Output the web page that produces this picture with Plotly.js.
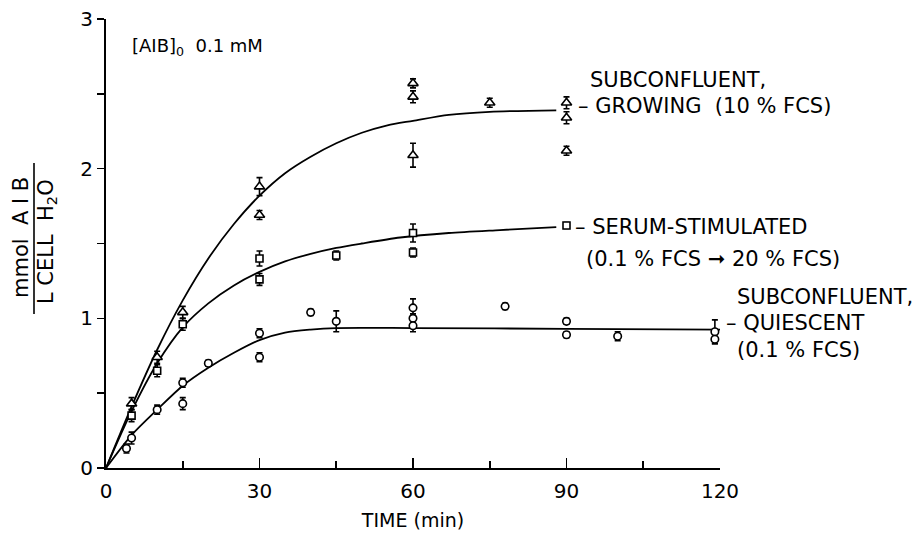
<!DOCTYPE html>
<html>
<head>
<meta charset="utf-8">
<script src="https://cdn.plot.ly/plotly-3.0.1.min.js"></script>
<style>html,body{margin:0;padding:0;background:#fff;}#chart{width:919px;height:541px;}</style>
</head>
<body>
<div id="chart"></div>
<script>
// ---- Data ----
// Subconfluent, growing (10% FCS) – triangles
const growT   = [5, 10, 15, 30, 30, 60, 60, 60, 75, 90, 90, 90];
const growY   = [0.43, 0.74, 1.04, 1.88, 1.69, 2.57, 2.48, 2.09, 2.44, 2.44, 2.34, 2.12];
const growErr = [0.04, 0.04, 0.04, 0.06, 0.03, 0.03, 0.04, 0.08, 0.03, 0.04, 0.04, 0.03];

// Serum-stimulated (0.1% FCS -> 20% FCS) – squares
const serT   = [5, 10, 15, 30, 30, 45, 60, 60, 90];
const serY   = [0.35, 0.65, 0.96, 1.40, 1.26, 1.42, 1.57, 1.44, 1.62];
const serErr = [0.04, 0.04, 0.04, 0.05, 0.04, 0.03, 0.06, 0.03, 0.02];

// Subconfluent, quiescent (0.1% FCS) – circles
const quiT   = [4, 5, 10, 15, 15, 20, 30, 30, 40, 45, 60, 60, 60, 78, 90, 90, 100, 119, 119];
const quiY   = [0.13, 0.20, 0.39, 0.57, 0.43, 0.70, 0.90, 0.74, 1.04, 0.98, 1.07, 1.00, 0.95, 1.08, 0.98, 0.89, 0.88, 0.91, 0.86];
const quiErr = [0.03, 0.04, 0.03, 0.03, 0.04, 0.02, 0.03, 0.03, 0.02, 0.07, 0.06, 0.03, 0.04, 0.02, 0.02, 0.02, 0.03, 0.08, 0.03];

// Fitted curves
const growCurveT = [0, 5, 10, 15, 20, 25, 30, 35, 40, 45, 50, 55, 60, 67, 75, 88];
const growCurveY = [0, 0.41, 0.79, 1.12, 1.40, 1.63, 1.82, 1.97, 2.08, 2.17, 2.24, 2.29, 2.32, 2.36, 2.38, 2.39];
const serCurveT  = [0, 5, 10, 15, 20, 25, 30, 35, 40, 45, 50, 57.5, 67, 77, 88];
const serCurveY  = [0, 0.38, 0.70, 0.94, 1.10, 1.22, 1.31, 1.38, 1.43, 1.47, 1.50, 1.54, 1.57, 1.59, 1.61];
const quiCurveT  = [0, 5, 10, 15, 20, 25, 30, 35, 40, 45, 60, 90, 120];
const quiCurveY  = [0, 0.22, 0.39, 0.55, 0.67, 0.77, 0.855, 0.905, 0.925, 0.935, 0.935, 0.93, 0.925];

const xTicks = [0, 30, 60, 90, 120];
const yTicks = [0, 1, 2, 3];

// ---- Plot ----
const FONT = 'DejaVu Sans, Liberation Sans, sans-serif';
function curve(t, y) {
  return {x: t, y: y, mode: 'lines', type: 'scatter', hoverinfo: 'skip',
          line: {color: '#000', width: 1.8, shape: 'spline', smoothing: 0.8}, showlegend: false};
}
function pts(t, y, e, sym, size) {
  return {x: t, y: y, mode: 'markers', type: 'scatter', showlegend: false,
          error_y: {type: 'data', array: e, visible: true, color: '#000', thickness: 1.6, width: 3},
          marker: {symbol: sym, size: size, color: '#fff', line: {color: '#000', width: 1.6}}};
}
const data = [
  curve(growCurveT, growCurveY),
  curve(serCurveT, serCurveY),
  curve(quiCurveT, quiCurveY),
  pts(growT, growY, growErr, 'triangle-up', 9),
  pts(serT, serY, serErr, 'square', 7),
  pts(quiT, quiY, quiErr, 'circle', 7.5)
];

function ann(text, px, py, extra) {
  return Object.assign({text: text, xref: 'paper', yref: 'paper', x: px, y: py,
    xanchor: 'left', yanchor: 'middle', showarrow: false,
    font: {family: FONT, size: 21, color: '#000'}}, extra || {});
}
// pixel helpers for plot-area-relative paper coords
const L = 106, R = 720, T = 19, B = 468;
const px = v => (v - L) / (R - L);
const py = v => (B - v) / (B - T);

const layout = {
  width: 919, height: 541,
  margin: {l: L, r: 919 - R, t: T, b: 541 - B},
  paper_bgcolor: '#fff', plot_bgcolor: '#fff',
  font: {family: FONT, color: '#000'},
  showlegend: false,
  xaxis: {
    range: [0, 120], tickvals: xTicks, ticktext: xTicks.map(String),
    showgrid: false, zeroline: false, showline: true, linecolor: '#000', linewidth: 2,
    ticks: 'inside', ticklen: 10, tickwidth: 1.6, tickcolor: '#000',
    minor: {tickvals: [15, 45, 75, 105], ticks: 'inside', ticklen: 7, tickwidth: 1.6, tickcolor: '#000'},
    tickfont: {family: FONT, size: 20}, ticklabelstandoff: 4,
    title: {text: 'TIME (min)', font: {family: FONT, size: 19}, standoff: 12}
  },
  yaxis: {
    range: [0, 3], tickvals: yTicks, ticktext: yTicks.map(String),
    showgrid: false, zeroline: false, showline: true, linecolor: '#000', linewidth: 2,
    ticks: 'outside', ticklen: 7, tickwidth: 1.6, tickcolor: '#000',
    minor: {tickvals: [0.5, 1.5, 2.5], ticks: 'outside', ticklen: 7, tickwidth: 1.6, tickcolor: '#000'},
    tickfont: {family: FONT, size: 20}
  },
  shapes: [
    {type: 'line', xref: 'paper', yref: 'paper', x0: px(34), x1: px(34), y0: py(163), y1: py(314),
     line: {color: '#000', width: 1.6}}
  ],
  annotations: [
    ann('[AIB]<sub>0</sub>  0.1 mM', px(130), py(47), {font: {family: FONT, size: 18, color: '#000'}}),
    ann('mmol  A I B', px(21), py(238), {xanchor: 'center', textangle: -90, font: {family: FONT, size: 21, color: '#000'}}),
    ann('L CELL  H<sub>2</sub>O', px(47), py(242), {xanchor: 'center', textangle: -90, font: {family: FONT, size: 21, color: '#000'}}),
    ann('SUBCONFLUENT,', px(588), py(80)),
    ann('– GROWING  (10 % FCS)', px(576), py(106)),
    ann('– SERUM-STIMULATED', px(573), py(227)),
    ann('(0.1 % FCS ➞ 20 % FCS)', px(584), py(259)),
    ann('SUBCONFLUENT,', px(735), py(297)),
    ann('– QUIESCENT', px(724), py(323)),
    ann('(0.1 % FCS)', px(735), py(350))
  ]
};
Plotly.newPlot('chart', data, layout, {staticPlot: true, displayModeBar: false});
</script>
</body>
</html>
